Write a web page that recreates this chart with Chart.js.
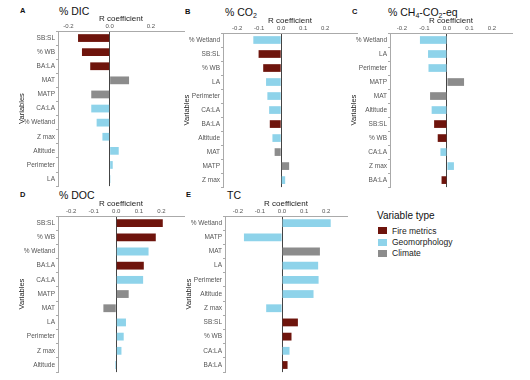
<!DOCTYPE html>
<html>
<head>
<meta charset="utf-8">
<script src="https://cdn.jsdelivr.net/npm/chart.js@4/dist/chart.umd.min.js"></script>
<style>
  html, body { margin:0; padding:0; background:#fff; }
  body { width:530px; height:380px; position:relative; overflow:hidden; font-family:'Liberation Sans', Arial, sans-serif; }
  canvas { position:absolute; }
  .t { position:absolute; white-space:nowrap; color:#111; }
  .letter { font-weight:bold; font-size:7.5px; line-height:10px; }
  .title { font-size:10.5px; line-height:12px; }
  .title sub { font-size:7px; vertical-align:-2px; line-height:0; }
  .leg { font-size:8.5px; line-height:10px; color:#222; }
  .sw { position:absolute; width:9px; height:7px; }
</style>
</head>
<body>
<div class="t letter" style="left:20px;top:6px;">A</div>
<div class="t title" style="left:59px;top:5px;">% DIC</div>
<div class="t letter" style="left:185px;top:7px;">B</div>
<div class="t title" style="left:225px;top:6px;">% CO<sub>2</sub></div>
<div class="t letter" style="left:352px;top:7px;">C</div>
<div class="t title" style="left:388px;top:6px;">% CH<sub>4</sub>-CO<sub>2</sub>-eq</div>
<div class="t letter" style="left:20px;top:190px;">D</div>
<div class="t title" style="left:59px;top:189px;">% DOC</div>
<div class="t letter" style="left:186px;top:190px;">E</div>
<div class="t title" style="left:227px;top:189px;">TC</div>

<div class="t" style="left:377px;top:210px;font-size:10px;line-height:12px;color:#111;">Variable type</div>
<div class="sw" style="left:378px;top:227px;background:#6e140c;"></div>
<div class="t leg" style="left:392px;top:226px;">Fire metrics</div>
<div class="sw" style="left:378px;top:239px;background:#8ed3ea;"></div>
<div class="t leg" style="left:392px;top:237px;">Geomorphology</div>
<div class="sw" style="left:378px;top:250px;background:#8c8c8c;"></div>
<div class="t leg" style="left:392px;top:248px;">Climate</div>

<canvas id="cA"></canvas>
<canvas id="cB"></canvas>
<canvas id="cC"></canvas>
<canvas id="cD"></canvas>
<canvas id="cE"></canvas>

<script>
// ---- Data ----
const dicLabels = ['SB:SL','% WB','BA:LA','MAT','MATP','CA:LA','% Wetland','Z max','Altitude','Perimeter','LA'];
const dicValues = [-0.153,-0.134,-0.094,0.094,-0.089,-0.089,-0.063,-0.035,0.044,0.015,0.004];
const dicTypes  = ['F','F','F','C','C','G','G','G','G','G','G'];

const co2Labels = ['% Wetland','SB:SL','% WB','LA','Perimeter','CA:LA','BA:LA','Altitude','MAT','MATP','Z max'];
const co2Values = [-0.127,-0.103,-0.082,-0.069,-0.063,-0.055,-0.052,-0.040,-0.030,0.036,0.018];
const co2Types  = ['G','F','F','G','G','G','F','G','C','C','G'];

const ch4Labels = ['% Wetland','LA','Perimeter','MATP','MAT','Altitude','SB:SL','% WB','CA:LA','Z max','BA:LA'];
const ch4Values = [-0.120,-0.084,-0.082,0.076,-0.075,-0.068,-0.057,-0.041,-0.029,0.031,-0.024];
const ch4Types  = ['G','G','G','C','C','G','F','F','G','G','F'];

const docLabels = ['SB:SL','% WB','% Wetland','BA:LA','CA:LA','MATP','MAT','LA','Perimeter','Z max','Altitude'];
const docValues = [0.206,0.175,0.143,0.122,0.119,0.055,-0.057,0.043,0.033,0.023,-0.005];
const docTypes  = ['F','F','G','F','G','C','C','G','G','G','G'];

const tcLabels = ['% Wetland','MATP','MAT','LA','Perimeter','Altitude','Z max','SB:SL','% WB','CA:LA','BA:LA'];
const tcValues = [0.221,-0.173,0.172,0.164,0.166,0.143,-0.072,0.072,0.043,0.034,0.025];
const tcTypes  = ['G','G','C','G','G','G','G','F','F','G','F'];

const typeColors = { F:'#6e140c', G:'#8ed3ea', C:'#8c8c8c' };
const tickLimit = 0.2;

Chart.defaults.font.family = "'Liberation Sans', Arial, sans-serif";

function makePanel(id, labels, values, types, g, xmin, xmax, step) {
  const L = g.left - 44, T = g.top - 18;
  const W = g.right - L + 1, H = g.bottom - T + 1;
  const cv = document.getElementById(id);
  cv.width = W; cv.height = H;
  cv.style.left = L + 'px'; cv.style.top = T + 'px';
  cv.style.width = W + 'px'; cv.style.height = H + 'px';
  new Chart(cv, {
    type: 'bar',
    data: {
      labels: labels,
      datasets: [{
        data: values,
        backgroundColor: types.map(t => typeColors[t]),
        borderWidth: 0,
        barPercentage: 0.55,
        categoryPercentage: 1
      }]
    },
    options: {
      indexAxis: 'y',
      responsive: false,
      animation: false,
      devicePixelRatio: 1,
      layout: { padding: { left: 0, top: 0, right: 1, bottom: 1 } },
      plugins: { legend: { display: false }, tooltip: { enabled: false } },
      scales: {
        x: {
          type: 'linear', position: 'top', min: xmin, max: xmax,
          afterFit: s => { s.height = 18; },
          afterBuildTicks: s => { s.ticks = s.ticks.filter(t => Math.abs(t.value) <= tickLimit + 1e-9); },
          ticks: {
            stepSize: step, includeBounds: false, autoSkip: false, maxRotation: 0,
            font: { size: 6 }, color: '#555', padding: 1,
            callback: v => Math.abs(v) < 1e-9 ? '0.0' : Number(v).toFixed(1)
          },
          grid: {
            drawTicks: false, lineWidth: 1,
            color: ctx => (ctx.tick && Math.abs(ctx.tick.value) < 1e-9) ? '#444' : 'rgba(0,0,0,0)'
          },
          border: { display: true, color: '#aaa' },
          title: { display: true, text: 'R coefficient', font: { size: 8 }, color: '#222', padding: { top: 1, bottom: 0 } }
        },
        y: {
          type: 'category',
          afterFit: s => { s.width = 44; },
          ticks: { font: { size: 6.5 }, color: '#555', padding: 1, autoSkip: false },
          grid: { drawOnChartArea: false, drawTicks: true, tickLength: 2, tickColor: '#aaa' },
          border: { display: true, color: '#aaa' },
          title: { display: true, text: 'Variables', font: { size: 7.5 }, color: '#222', padding: { top: 3.5, bottom: 0 } }
        }
      }
    }
  });
}

makePanel('cA', dicLabels, dicValues, dicTypes, {left:58, top:31, right:184, bottom:190}, -0.25, 0.36, 0.2);
makePanel('cB', co2Labels, co2Values, co2Types, {left:223, top:33, right:357, bottom:191}, -0.265, 0.345, 0.1);
makePanel('cC', ch4Labels, ch4Values, ch4Types, {left:390, top:33, right:512, bottom:191}, -0.253, 0.289, 0.1);
makePanel('cD', docLabels, docValues, docTypes, {left:58, top:216, right:184, bottom:376}, -0.258, 0.30, 0.1);
makePanel('cE', tcLabels, tcValues, tcTypes, {left:225, top:216, right:347, bottom:376}, -0.259, 0.295, 0.1);
</script>
</body>
</html>
